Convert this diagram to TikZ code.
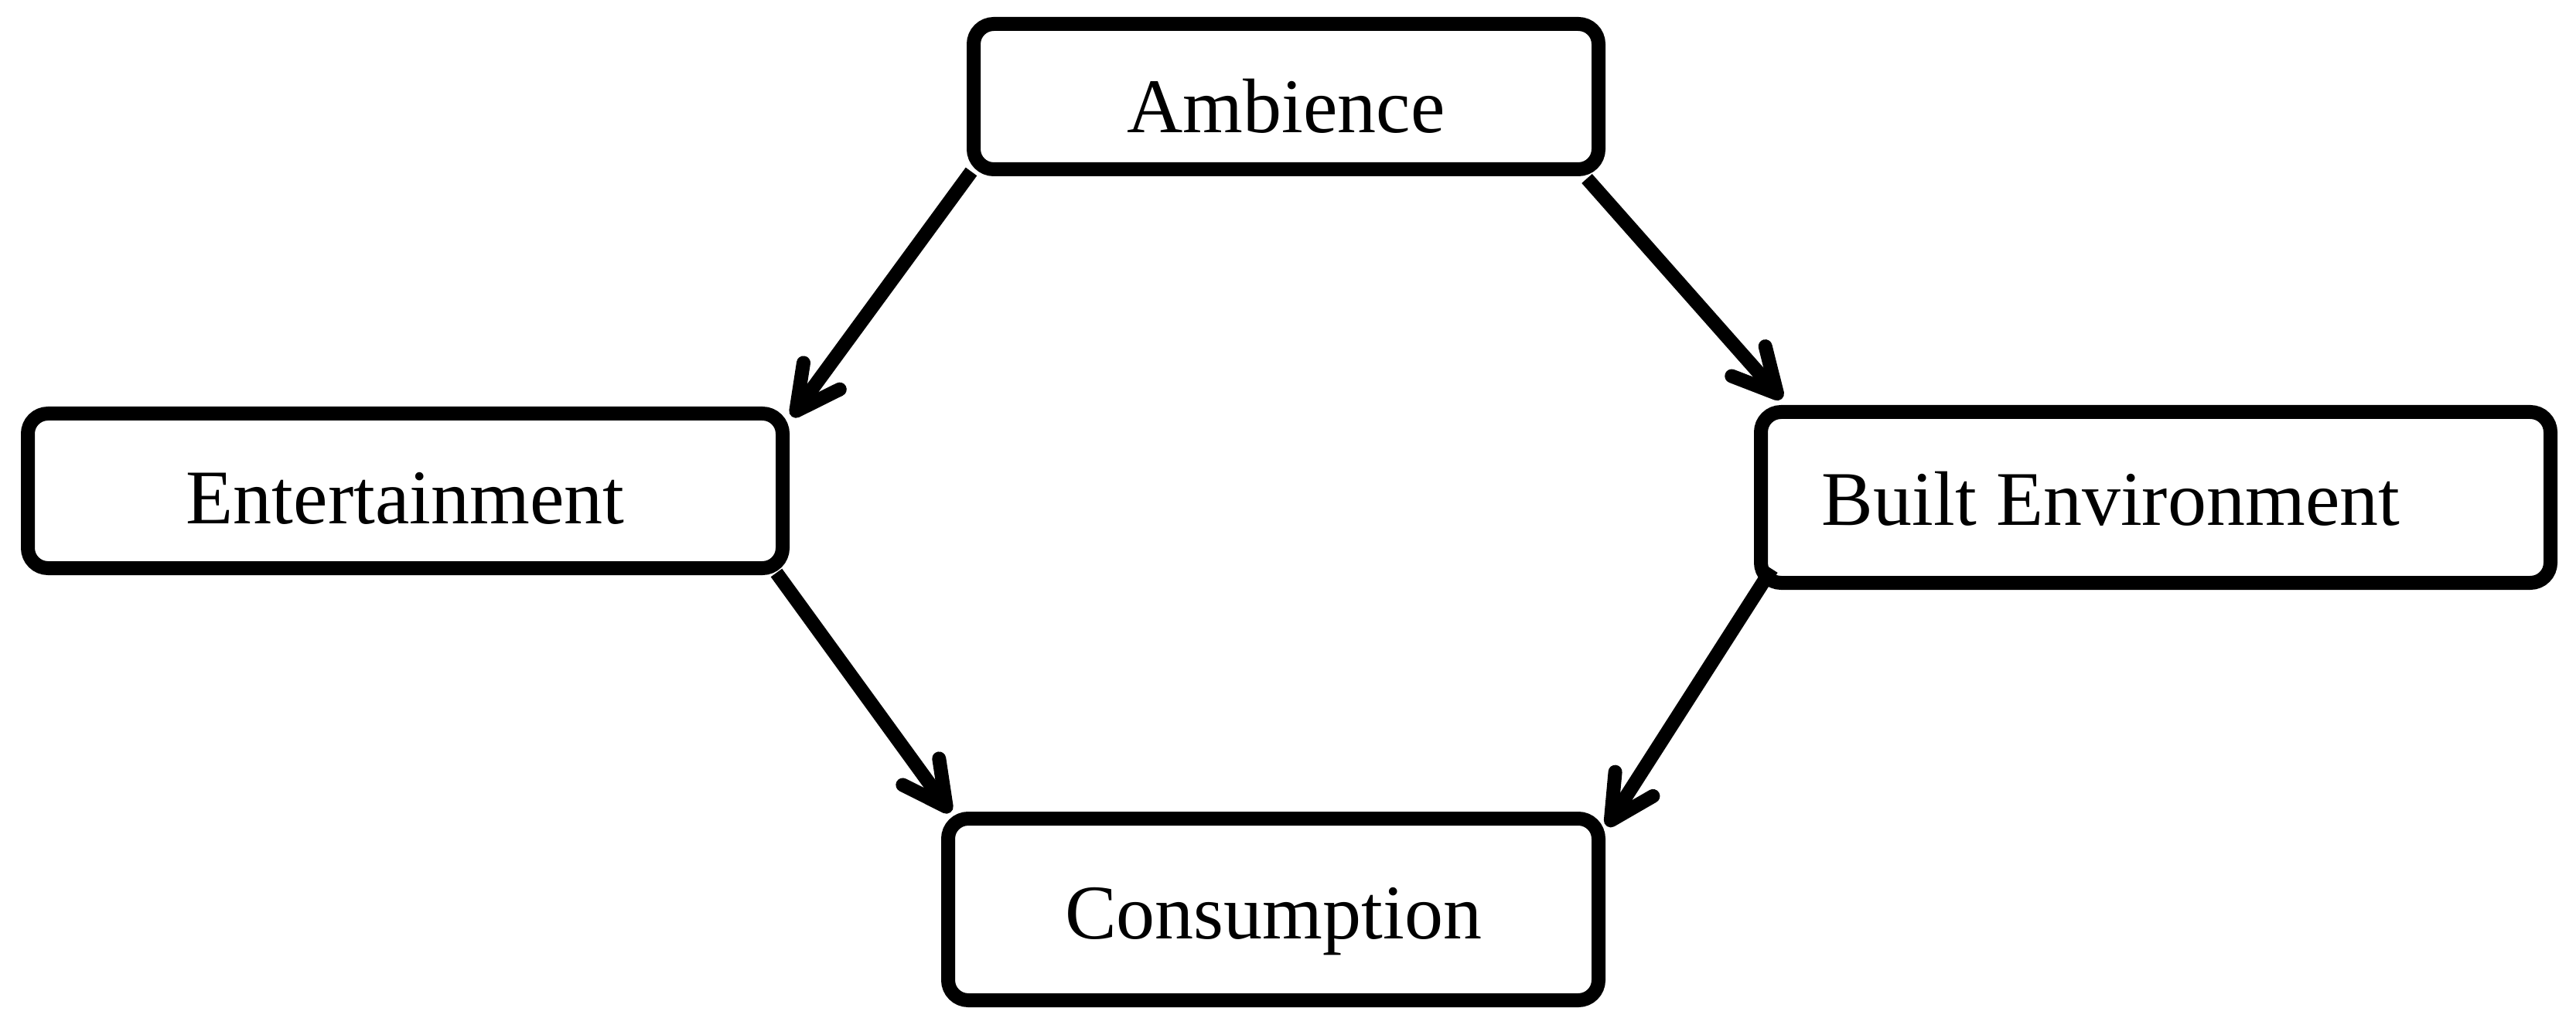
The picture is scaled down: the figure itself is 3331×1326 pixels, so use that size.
\documentclass[tikz,border=0pt]{standalone}
\usepackage{fontspec}
\setmainfont{Liberation Serif}
\usetikzlibrary{arrows.meta,calc}
\newcommand\mylbl[3]{\raisebox{#2}[0pt][0pt]{\makebox[0pt]{\hspace*{#1}#3}}}
\begin{document}
\begin{tikzpicture}[x=0.25pt,y=-0.25pt,
  box/.style={draw=black, line width=4.5pt, rounded corners=6.5pt, inner sep=0pt,
    fill=white, font=\fontsize{25}{30}\selectfont},
  conn/.style={draw=black, line width=4.5pt,
    -{Straight Barb[length=14pt,width=14.5pt,round]}}]
\useasboundingbox (0,0) rectangle (3331,1326);
\node[box, minimum width=202pt, minimum height=47pt] (amb) at (1663,125)
  {\mylbl{0pt}{-11.75pt}{Ambience}};
\node[box, minimum width=244pt, minimum height=50pt] (ent) at (524,635)
  {\mylbl{0pt}{-10.5pt}{Entertainment}};
\node[box, minimum width=255.25pt, minimum height=55.25pt] (bui) at (2787.5,643.5)
  {\mylbl{-29pt}{-8.9pt}{Built Environment}};
\node[box, minimum width=210.25pt, minimum height=58.75pt] (con) at (1646.5,1176.5)
  {\mylbl{0pt}{-9.6pt}{Consumption}};
\draw[conn] ($(amb.south west)+(6,-6)$) -- ($(ent.north east)+(3,13)$);
\draw[conn] ($(amb.south east)+(-24,3)$) -- ($(bui.north west)+(36,-8)$);
\draw[conn] ($(ent.south east)+(-17,-3)$) -- ($(con.north west)+(12,1)$);
\draw[conn] ($(bui.south west)+(23,-27)$) -- ($(con.north east)+(2,19)$);
\end{tikzpicture}
\end{document}
